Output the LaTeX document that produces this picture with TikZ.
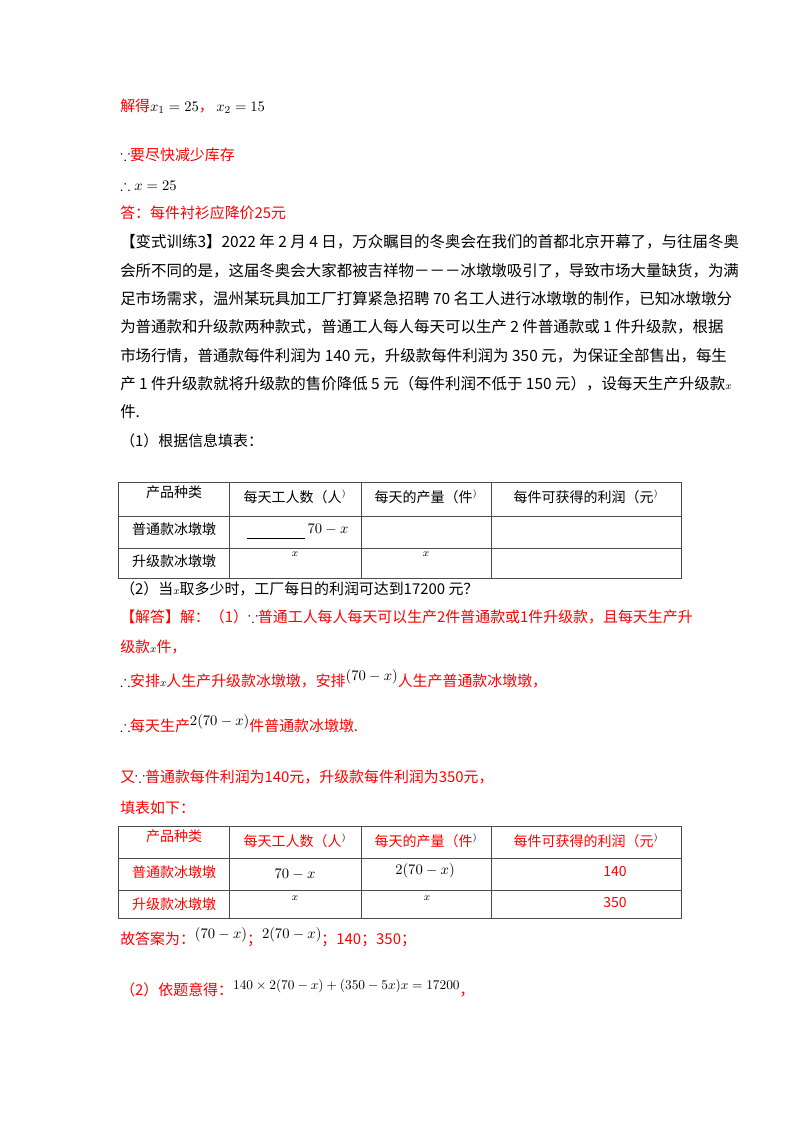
\documentclass[tikz,border=0pt]{standalone}
\usepackage{amssymb}
\usepackage{fontspec}
\newfontfamily\cjk{Noto Sans CJK SC}
\setmainfont{Liberation Serif}
\begin{document}
\begin{tikzpicture}[x=0.75pt,y=-0.75pt,
  t/.style={anchor=base west,inner sep=0,font=\cjk\fontsize{11.2}{13}\selectfont},
  p/.style={t,font=\cjk\fontsize{11.6}{13}\selectfont},
  c/.style={anchor=base,inner sep=0,font=\cjk\fontsize{10.5}{12}\selectfont},
  mathx/.style={anchor=base,inner sep=0,font=\fontsize{8}{9}\selectfont},
  tab/.style={draw=black!70,line width=0.6pt}]
\useasboundingbox[fill=white] (0,0) rectangle (800,1132);
\def\rp{$^{)}$}
\node[t] (l1) at (120,111) {{\color{red}解得}$x_1=25${\color{red}，}\,$x_2=15$};
\node[t] (l2) at (120,160) {$\because${\color{red}要尽快减少库存}};
\node[t] (l3) at (120,190) {$\therefore x=25$};
\node[t,text=red] (l4) at (120,218) {答：每件衬衫应降价25元};
\node[p] (q1) at (120,247) {【变式训练3】2022 年 2 月 4 日，万众瞩目的冬奥会在我们的首都北京开幕了，与往届冬奥};
\node[p] (q2) at (120,276) {会所不同的是，这届冬奥会大家都被吉祥物－－－冰墩墩吸引了，导致市场大量缺货，为满};
\node[p] (q3) at (120,304) {足市场需求，温州某玩具加工厂打算紧急招聘 70 名工人进行冰墩墩的制作，已知冰墩墩分};
\node[p] (q4) at (120,332) {为普通款和升级款两种款式，普通工人每人每天可以生产 2 件普通款或 1 件升级款，根据};
\node[p] (q5) at (120,361) {市场行情，普通款每件利润为 140 元，升级款每件利润为 350 元，为保证全部售出，每生};
\node[p] (q6) at (120,389) {产 1 件升级款就将升级款的售价降低 5 元（每件利润不低于 150 元），设每天生产升级款{\fontsize{8}{9}\selectfont$x$}};
\node[p] (q7) at (120,417) {件.};
\node[t] (q8) at (120,446) {（1）根据信息填表：};
% table 1
\draw[tab] (118,482) rectangle (681,578);
\draw[tab] (118,516) -- (681,516) (118,548) -- (681,548);
\foreach \xx in {229,361,491} \draw[tab] (\xx,482) -- (\xx,578);
\node[c] (h1) at (174,497) {产品种类};
\node[c] (h2) at (295,502) {每天工人数（人\rp};
\node[c] (h3) at (426,502) {每天的产量（件\rp};
\node[c] (h4) at (586,502) {每件可获得的利润（元\rp};
\node[c] (r1) at (174,534) {普通款冰墩墩};
\node[c] (r2) at (174,566) {升级款冰墩墩};
\coordinate (u1) at (247,538); \coordinate (u2) at (305,538);
\draw[line width=0.6pt] (u1) -- (u2);
\node[anchor=base,inner sep=0,font=\fontsize{11}{12}\selectfont] (v1) at (328,533) {$70-x$};
\node[mathx] (v2) at (295,556) {$x$};
\node[mathx] (v3) at (426,556) {$x$};
\node[t] (q9) at (120,594) {（2）当{\fontsize{8}{9}\selectfont$x$}取多少时，工厂每日的利润可达到17200 元？};
% solution
\node[t,text=red] (s1) at (120,622) {【解答】解：（1）{\color{black}$\because$}普通工人每人每天可以生产2件普通款或1件升级款，且每天生产升};
\node[t,text=red] (s2) at (120,652) {级款{\color{black}\fontsize{8}{9}\selectfont$x$}件，};
\node[t,text=red] (s3) at (120,686) {{\color{black}$\therefore$}安排{\color{black}\fontsize{8}{9}\selectfont$x$}人生产升级款冰墩墩，安排{\color{black}\raisebox{4pt}{$(70-x)$}}人生产普通款冰墩墩，};
\node[t,text=red] (s4) at (120,731) {{\color{black}$\therefore$}每天生产{\color{black}\raisebox{4pt}{$2(70-x)$}}件普通款冰墩墩.};
\node[t,text=red] (s5) at (120,782) {又{\color{black}$\because$}普通款每件利润为140元，升级款每件利润为350元，};
\node[t,text=red] (s6) at (120,813) {填表如下：};
% table 2
\draw[tab] (118,826) rectangle (681,918);
\draw[tab] (118,858) -- (681,858) (118,890) -- (681,890);
\foreach \xx in {229,361,491} \draw[tab] (\xx,826) -- (\xx,918);
\begin{scope}[every node/.append style={text=red}]
\node[c] (g1) at (174,841) {产品种类};
\node[c] (g2) at (295,846) {每天工人数（人{\color{black}\rp}};
\node[c] (g3) at (426,846) {每天的产量（件{\color{black}\rp}};
\node[c] (g4) at (586,846) {每件可获得的利润（元{\color{black}\rp}};
\node[c] (k1) at (174,877) {普通款冰墩墩};
\node[c] (k2) at (174,909) {升级款冰墩墩};
\node[c] (w3) at (615,876) {140};
\node[c] (w4) at (615,907) {350};
\end{scope}
\node[anchor=base,inner sep=0,font=\fontsize{11}{12}\selectfont] (w1) at (295,878) {$70-x$};
\node[anchor=base,inner sep=0,font=\fontsize{11}{12}\selectfont] (w2) at (425,874) {$2(70-x)$};
\node[mathx] (w5) at (295,900) {$x$};
\node[mathx] (w6) at (427,900) {$x$};
\node[t,text=red] (s7) at (120,944) {故答案为：{\color{black}\raisebox{4pt}{$(70-x)$}}；{\color{black}\raisebox{4pt}{$2(70-x)$}}；140；350；};
\node[t,text=red] (s8) at (120,995) {（2）依题意得：{\color{black}\raisebox{4pt}{\fontsize{10}{11}\selectfont$140\times2(70-x)+(350-5x)x=17200$}}，};
\end{tikzpicture}
\end{document}
